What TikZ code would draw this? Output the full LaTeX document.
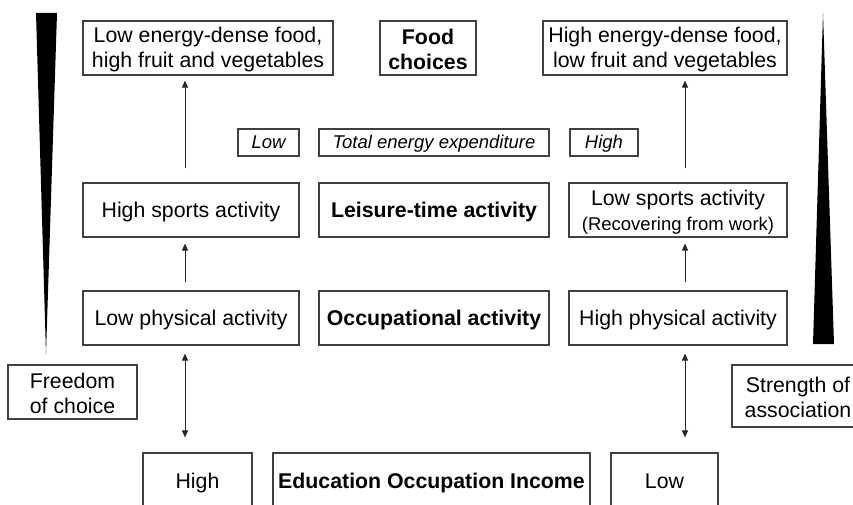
\documentclass[tikz,border=0pt]{standalone}
\usepackage{fontspec}
\setmainfont{Liberation Sans}
\usetikzlibrary{arrows.meta}
\begin{document}
\begin{tikzpicture}[x=1pt,y=-1pt,
  box/.style={draw=black!75, line width=1.1pt, inner sep=0pt, align=center,
    font=\fontsize{21.3}{25}\selectfont},
  one/.style={text height=17.5pt, text depth=2.5pt},
  hdr/.style={box, font=\fontsize{21.3}{25}\selectfont\bfseries},
  tag/.style={box, font=\fontsize{18.5}{22}\selectfont\itshape, text height=14.5pt, text depth=3pt},
  arr/.style={draw=black!85, line width=1pt, -{Triangle[length=7pt,width=6pt]}},
  darr/.style={draw=black!85, line width=1pt, {Triangle[length=7pt,width=6pt]}-{Triangle[length=7pt,width=6pt]}},
  wedge/.style={fill=black}
]
\clip (0,0) rectangle (853,505);
\useasboundingbox (0,0) rectangle (853,505);

% gradient wedges
\fill[wedge] (36,13) -- (57,13) -- (46,354) -- cycle;
\fill[wedge] (823,13) -- (834,344) -- (813,344) -- cycle;

% food choices row
\node[box, minimum width=250, minimum height=54] (foodL) at (208,48)
  {\rule{0pt}{19pt}Low energy-dense food,\\high fruit and vegetables};
\node[hdr, minimum width=96, minimum height=54] (food) at (428,48) {\rule{0pt}{19pt}Food\\choices};
\node[box, minimum width=244, minimum height=54] (foodR) at (665,48)
  {\rule{0pt}{19pt}High energy-dense food,\\low fruit and vegetables};

% energy expenditure labels
\node[tag, minimum width=61, minimum height=27] (eLow) at (268.5,142.5) {Low};
\node[tag, minimum width=230, minimum height=27] (eTot) at (434,142.5) {Total energy expenditure};
\node[tag, minimum width=68, minimum height=27] (eHigh) at (604,142.5) {High};

% leisure-time activity row
\node[box, one, minimum width=216, minimum height=54] (sportL) at (191,210) {High sports activity};
\node[hdr, one, minimum width=230, minimum height=54] (leisure) at (434,210) {Leisure-time activity};
\node[box, minimum width=218, minimum height=54] (sportR) at (678,210)
  {\rule{0pt}{19pt}Low sports activity\\{\fontsize{18.5}{22}\selectfont (Recovering from work)}};

% occupational activity row
\node[box, one, minimum width=216, minimum height=54] (physL) at (191,318) {Low physical activity};
\node[hdr, one, minimum width=230, minimum height=54] (occup) at (434,318) {Occupational activity};
\node[box, one, minimum width=218, minimum height=54] (physR) at (678,318) {High physical activity};

% side labels
\node[box, minimum width=129, minimum height=54] (freedom) at (72.5,392) {\rule{0pt}{19pt}Freedom\\of choice};
\node[box, minimum width=132, minimum height=62] (strength) at (798,396) {\rule{0pt}{19pt}Strength of\\association};

% socioeconomic position row
\node[box, one, minimum width=109, minimum height=56] (sesH) at (197.5,481) {High};
\node[hdr, one, minimum width=317, minimum height=56] (ses) at (431.5,481) {Education Occupation Income};
\node[box, one, minimum width=107, minimum height=56] (sesL) at (664.5,481) {Low};

% connector columns
\coordinate (colL) at (185,0);
\coordinate (colR) at (685,0);

\draw[arr, shorten <=14pt, shorten >=5pt] (sportL.north -| colL) -- (foodL.south -| colL);
\draw[arr, shorten <=8pt, shorten >=6pt] (physL.north -| colL) -- (sportL.south -| colL);
\draw[darr, shorten <=8pt, shorten >=15pt] (physL.south -| colL) -- (sesH.north -| colL);

\draw[arr, shorten <=14pt, shorten >=5pt] (sportR.north -| colR) -- (foodR.south -| colR);
\draw[arr, shorten <=8pt, shorten >=6pt] (physR.north -| colR) -- (sportR.south -| colR);
\draw[darr, shorten <=8pt, shorten >=15pt] (physR.south -| colR) -- (sesL.north -| colR);
\end{tikzpicture}
\end{document}
